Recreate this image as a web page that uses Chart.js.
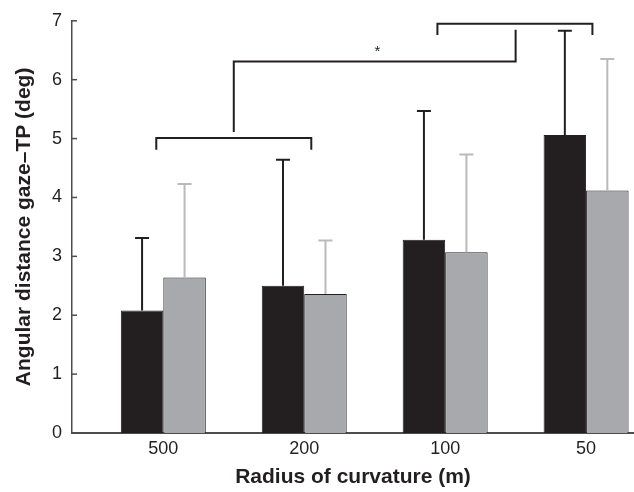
<!DOCTYPE html>
<html>
<head>
<meta charset="utf-8">
<script src="https://cdn.jsdelivr.net/npm/chart.js@4.4.1/dist/chart.umd.min.js"></script>
<style>
  html, body { margin: 0; padding: 0; background: #fff; }
  #wrap { width: 634px; height: 492px; position: relative; }
</style>
</head>
<body>
<div id="wrap"><canvas id="gazeChart"></canvas></div>
<script>
// Radius of curvature categories and their x positions
const categories = ['500', '200', '100', '50'];
const catPos = [1, 2, 3, 4];

// Series means and SD (deg)
const blackMeans = [2.08, 2.50, 3.28, 5.06];
const blackSD = [1.23, 2.14, 2.19, 1.77];
const grayMeans = [2.64, 2.36, 3.07, 4.12];
const graySD = [1.59, 0.91, 1.66, 2.23];

const yTicks = [0, 1, 2, 3, 4, 5, 6, 7];

// Significance brackets, in axis units: [x1, x2, y, tipY]
const brackets = [
    [0.95, 2.05, 5.01, 4.81],
    [2.945, 4.045, 6.95, 6.76]
];
// connector: from lower bracket middle up, across, to upper bracket
const connX = [1.50, 3.50];
const connY = [5.11, 6.31, 6.85];
const starPos = [2.52, 6.52];

const INK = '#231f20';
const FONT = "'Liberation Sans', Arial, sans-serif";

const toPoints = (vals) => vals.map((v, i) => ({ x: catPos[i], y: v }));

const extrasPlugin = {
    id: 'extras',
    afterDatasetsDraw(chart) {
        const ctx = chart.ctx;
        const xs = chart.scales.x;
        const ys = chart.scales.y;
        const X = v => xs.getPixelForValue(v);
        const Y = v => ys.getPixelForValue(v);

        // error bars (upward only)
        const sets = [[blackMeans, blackSD, INK], [grayMeans, graySD, '#b9babd']];
        sets.forEach(([means, sds, col], di) => {
            const meta = chart.getDatasetMeta(di);
            ctx.save();
            ctx.strokeStyle = col;
            ctx.lineWidth = 2;
            meta.data.forEach((bar, i) => {
                const yTop = Y(means[i] + sds[i]);
                ctx.beginPath();
                ctx.moveTo(bar.x, Y(means[i]));
                ctx.lineTo(bar.x, yTop);
                ctx.moveTo(bar.x - 7, yTop);
                ctx.lineTo(bar.x + 7, yTop);
                ctx.stroke();
            });
            ctx.restore();
        });

        // inward y ticks
        ctx.save();
        ctx.strokeStyle = '#4d4d4d';
        ctx.lineWidth = 1.5;
        yTicks.forEach(t => {
            ctx.beginPath();
            ctx.moveTo(xs.left, Y(t));
            ctx.lineTo(xs.left + 5, Y(t));
            ctx.stroke();
        });
        ctx.restore();

        // brackets
        ctx.save();
        ctx.strokeStyle = INK;
        ctx.lineWidth = 2;
        brackets.forEach(([x1, x2, y, tip]) => {
            ctx.beginPath();
            ctx.moveTo(X(x1), Y(tip));
            ctx.lineTo(X(x1), Y(y));
            ctx.lineTo(X(x2), Y(y));
            ctx.lineTo(X(x2), Y(tip));
            ctx.stroke();
        });
        ctx.beginPath();
        ctx.moveTo(X(connX[0]), Y(connY[0]));
        ctx.lineTo(X(connX[0]), Y(connY[1]));
        ctx.lineTo(X(connX[1]), Y(connY[1]));
        ctx.lineTo(X(connX[1]), Y(connY[2]));
        ctx.stroke();

        ctx.fillStyle = INK;
        ctx.font = '15px ' + FONT;
        ctx.textAlign = 'center';
        ctx.textBaseline = 'middle';
        ctx.fillText('*', X(starPos[0]), Y(starPos[1]) + 3);
        ctx.restore();
    }
};

const ctx = document.getElementById('gazeChart').getContext('2d');
new Chart(ctx, {
    type: 'bar',
    data: {
        datasets: [{
            data: toPoints(blackMeans),
            backgroundColor: INK,
            borderColor: INK,
            borderWidth: 1
        }, {
            data: toPoints(grayMeans),
            backgroundColor: '#a7a9ac',
            borderColor: INK,
            borderWidth: 1
        }]
    },
    options: {
        responsive: true,
        maintainAspectRatio: false,
        animation: false,
        layout: { padding: { top: 19, right: 0, left: 0, bottom: 0 } },
        datasets: {
            bar: { categoryPercentage: 0.603, barPercentage: 1.0 }
        },
        plugins: {
            legend: { display: false },
            tooltip: { enabled: false }
        },
        scales: {
            x: {
                type: 'linear',
                offset: false,
                min: 0.352,
                max: 4.34,
                afterBuildTicks: (scale) => {
                    scale.ticks = catPos.map(v => ({ value: v }));
                },
                afterFit: (scale) => { scale.height = 59; },
                grid: { display: false, drawTicks: false, offset: false },
                border: { display: true, color: '#4d4d4d', width: 2 },
                ticks: {
                    padding: 5,
                    color: '#231f20',
                    font: { family: FONT, size: 18 },
                    callback: (v) => categories[catPos.indexOf(v)] || ''
                },
                title: {
                    display: true,
                    text: 'Radius of curvature (m)',
                    color: '#231f20',
                    font: { family: FONT, size: 21, weight: 'bold' },
                    padding: { top: 0, bottom: 2 }
                }
            },
            y: {
                min: 0,
                max: 7,
                afterBuildTicks: (scale) => {
                    scale.ticks = yTicks.map(v => ({ value: v }));
                },
                afterFit: (scale) => { scale.width = 72; },
                grid: { display: false, drawTicks: false },
                border: { display: true, color: '#4d4d4d', width: 1.5 },
                ticks: {
                    padding: 10,
                    color: '#231f20',
                    font: { family: FONT, size: 18 }
                },
                title: {
                    display: true,
                    text: 'Angular distance gaze\u2013TP (deg)',
                    color: '#231f20',
                    font: { family: FONT, size: 21, weight: 'bold' },
                    padding: { top: 12, bottom: 0 }
                }
            }
        }
    },
    plugins: [extrasPlugin]
});
</script>
</body>
</html>
